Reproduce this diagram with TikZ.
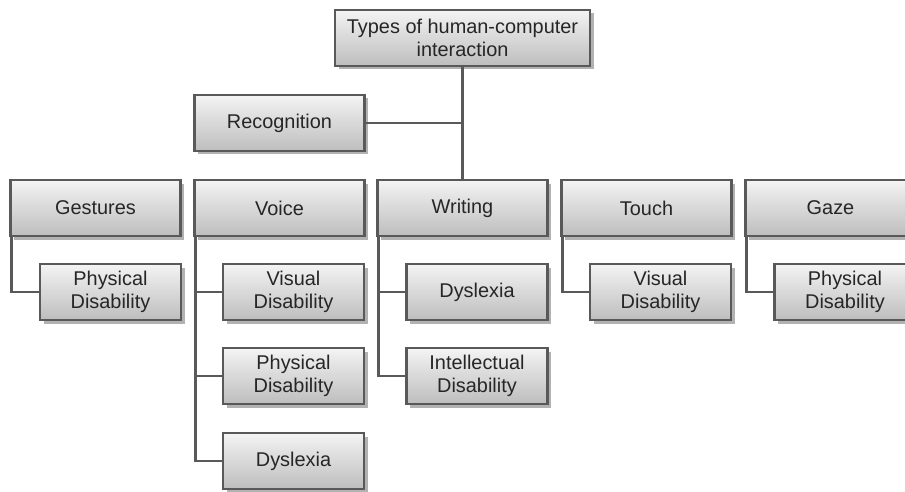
\documentclass[tikz,border=0pt]{standalone}
\usepackage{fontspec}
\setmainfont{Liberation Sans}
\usetikzlibrary{shadows}
\definecolor{boxline}{HTML}{595959}
\definecolor{boxtop}{HTML}{F4F4F4}
\definecolor{boxbot}{HTML}{BDBDBD}
\definecolor{txt}{HTML}{262626}
\tikzset{
  box/.style={draw=boxline, line width=2.2pt, top color=boxtop, bottom color=boxbot,
    drop shadow={shadow xshift=3.5pt, shadow yshift=-3.5pt, fill=black, opacity=0.3},
    minimum height=56pt, inner sep=0pt, align=center, text=txt,
    font=\fontsize{19.9}{23}\selectfont},
  big/.style={box, minimum width=170pt},
  small/.style={box, minimum width=141pt},
  conn/.style={draw=boxline, line width=2.2pt}
}
\begin{document}
\begin{tikzpicture}[x=1pt,y=-1pt]
\useasboundingbox (0,0) rectangle (905,492);
\node[box, minimum width=255pt] (root) at (462.5,38) {Types of human-computer\\interaction};
\node[big] (rec) at (279.5,123) {Recognition};
\node[big] (ges) at (95.5,208) {Gestures};
\node[big] (voi) at (279.5,208) {Voice};
\node[big] (wri) at (462.5,208) {Writing};
\node[big] (tou) at (646.5,208) {Touch};
\node[big] (gaz) at (830.5,208) {Gaze};
\node[small] (ges1) at (110.5,292) {Physical\\Disability};
\node[small] (voi1) at (293.5,292) {Visual\\Disability};
\node[small] (voi2) at (293.5,376) {Physical\\Disability};
\node[small] (voi3) at (293.5,461) {Dyslexia};
\node[small] (wri1) at (477,292) {Dyslexia};
\node[small] (wri2) at (477,376) {Intellectual\\Disability};
\node[small] (tou1) at (660.5,292) {Visual\\Disability};
\node[small] (gaz1) at (845,292) {Physical\\Disability};
\draw[conn] (root.south) -- (wri.north);
\draw[conn] (rec.east) -- (rec.east -| root.south);
\draw[conn] ([xshift=2pt]ges.south west) |- (ges1.west);
\draw[conn] ([xshift=2pt]voi.south west) |- (voi3.west);
\draw[conn] ([xshift=2pt]voi.south west) |- (voi1.west);
\draw[conn] ([xshift=2pt]voi.south west) |- (voi2.west);
\draw[conn] ([xshift=2pt]wri.south west) |- (wri2.west);
\draw[conn] ([xshift=2pt]wri.south west) |- (wri1.west);
\draw[conn] ([xshift=2pt]tou.south west) |- (tou1.west);
\draw[conn] ([xshift=2pt]gaz.south west) |- (gaz1.west);
\end{tikzpicture}
\end{document}
